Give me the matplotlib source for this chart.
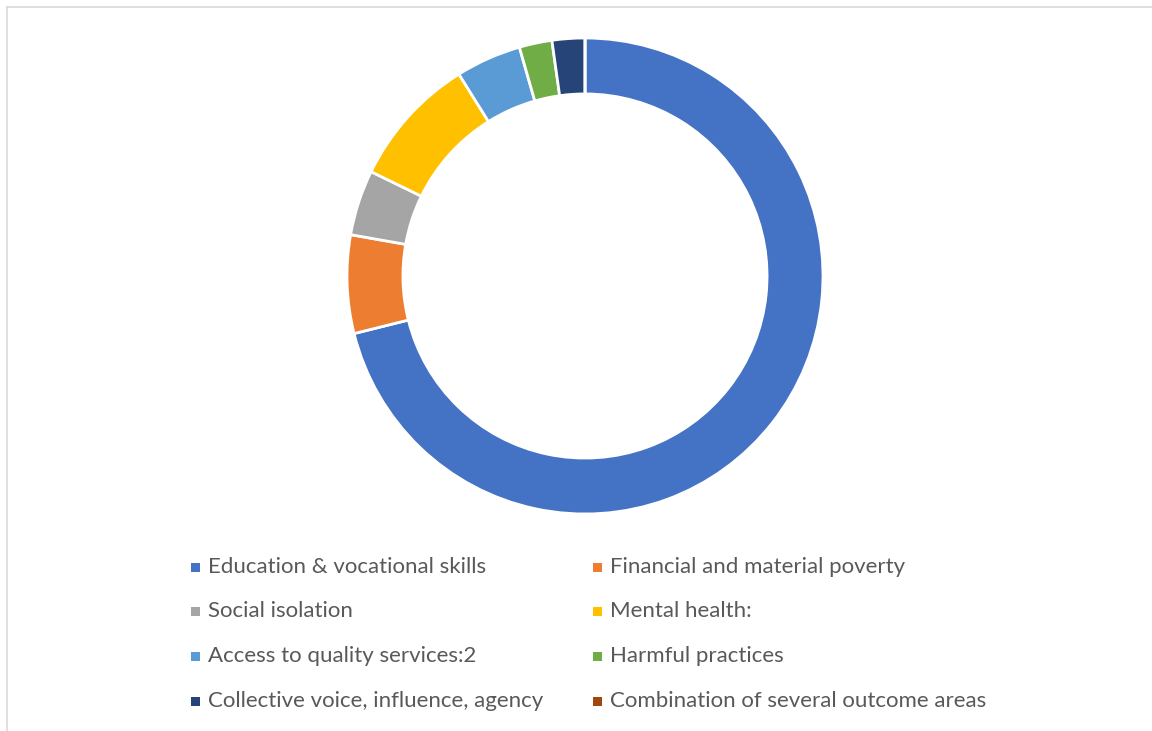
import matplotlib
matplotlib.use("Agg")
import matplotlib.pyplot as plt
from matplotlib.patches import Rectangle
from matplotlib.lines import Line2D

categories = [
    "Education & vocational skills",
    "Financial and material poverty",
    "Social isolation",
    "Mental health:",
    "Access to quality services:2",
    "Harmful practices",
    "Collective voice, influence, agency",
    "Combination of several outcome areas",
]
counts = [32, 3, 2, 4, 2, 1, 1, 0]
colors = ["#4472C4", "#ED7D31", "#A5A5A5", "#FFC000",
          "#5B9BD5", "#70AD47", "#264478", "#9E480E"]

W, H = 1152, 731
fig = plt.figure(figsize=(W / 100, H / 100), dpi=100)
fig.patch.set_facecolor("white")

# chart frame (top and left edges visible)
fig.add_artist(Line2D([6.5 / W, 1], [1 - 7 / H, 1 - 7 / H], transform=fig.transFigure,
                      color="#D9D9D9", lw=1.2))
fig.add_artist(Line2D([6.5 / W, 6.5 / W], [0, 1 - 7 / H], transform=fig.transFigure,
                      color="#D9D9D9", lw=1.2))

cx, cy, r = 585, 276, 238
ax = fig.add_axes([(cx - r) / W, (H - cy - r) / H, 2 * r / W, 2 * r / H])
ax.pie(counts, colors=colors, startangle=90, counterclock=False, radius=1.0,
       wedgeprops=dict(width=0.235, edgecolor="white", linewidth=2.0))
ax.set_xlim(-1, 1)
ax.set_ylim(-1, 1)
ax.set_aspect("equal")
ax.axis("off")

# two-column legend below the ring
col_x = [195, 597]
row_y = [567, 611, 656, 701]
for i, (lab, c) in enumerate(zip(categories, colors)):
    x = col_x[i % 2]
    y = row_y[i // 2]
    s = 9
    fig.add_artist(Rectangle(((x - s / 2) / W, (H - y - s / 2) / H), s / W, s / H,
                             transform=fig.transFigure, facecolor=c, edgecolor="none"))
    fig.text((x + 13) / W, (H - y) / H, lab, fontsize=16, family="Lato",
             color="#595959", va="center", ha="left")

fig.savefig("out.png", dpi=100, facecolor="white")
